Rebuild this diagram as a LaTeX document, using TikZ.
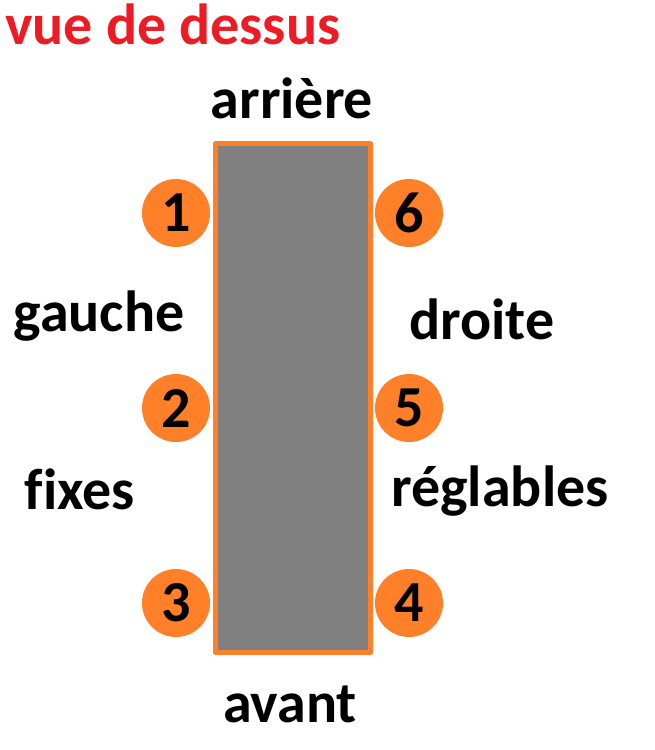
\documentclass[tikz,border=0pt]{standalone}
\usepackage{fontspec}
\setmainfont[Ligatures=NoCommon]{Carlito}
\definecolor{rouge}{RGB}{237,28,36}
\definecolor{orange}{RGB}{255,128,40}
\begin{document}
\begin{tikzpicture}[x=1pt,y=-1pt,font=\fontsize{58}{58}\selectfont\bfseries, line join=round]
	\tikzset{pied/.style={circle,fill=orange,minimum size=68pt,inner sep=0pt},
		lbl/.style={inner sep=0pt,anchor=base}}
	\def\xg{176} \def\xd{409} % centres des pieds
	\useasboundingbox (0,0) rectangle (655,750);
	\node[lbl,text=rouge,anchor=base west] (titre) at (5,44) {vue de dessus};
	\draw[orange,line width=5pt,fill=gray] (215.5,143.5) rectangle (370.5,652.5);
	\node[lbl] (arriere) at (292,118) {arrière};
	\node[lbl] (avant) at (290,722) {avant};
	\node[lbl] (gauche) at (99,331) {gauche};
	\node[lbl] (droite) at (482,339) {droite};
	\node[lbl] (fixes) at (80,509) {fixes};
	\node[lbl] (reglables) at (500,506) {réglables};
	\node[pied] (p1) at (\xg,213) {1};
	\node[pied] (p2) at (\xg,408) {2};
	\node[pied] (p3) at (\xg,603) {3};
	\node[pied] (p4) at (\xd,603) {4};
	\node[pied] (p5) at (\xd,408) {5};
	\node[pied] (p6) at (\xd,213) {6};
\end{tikzpicture}
\end{document}
